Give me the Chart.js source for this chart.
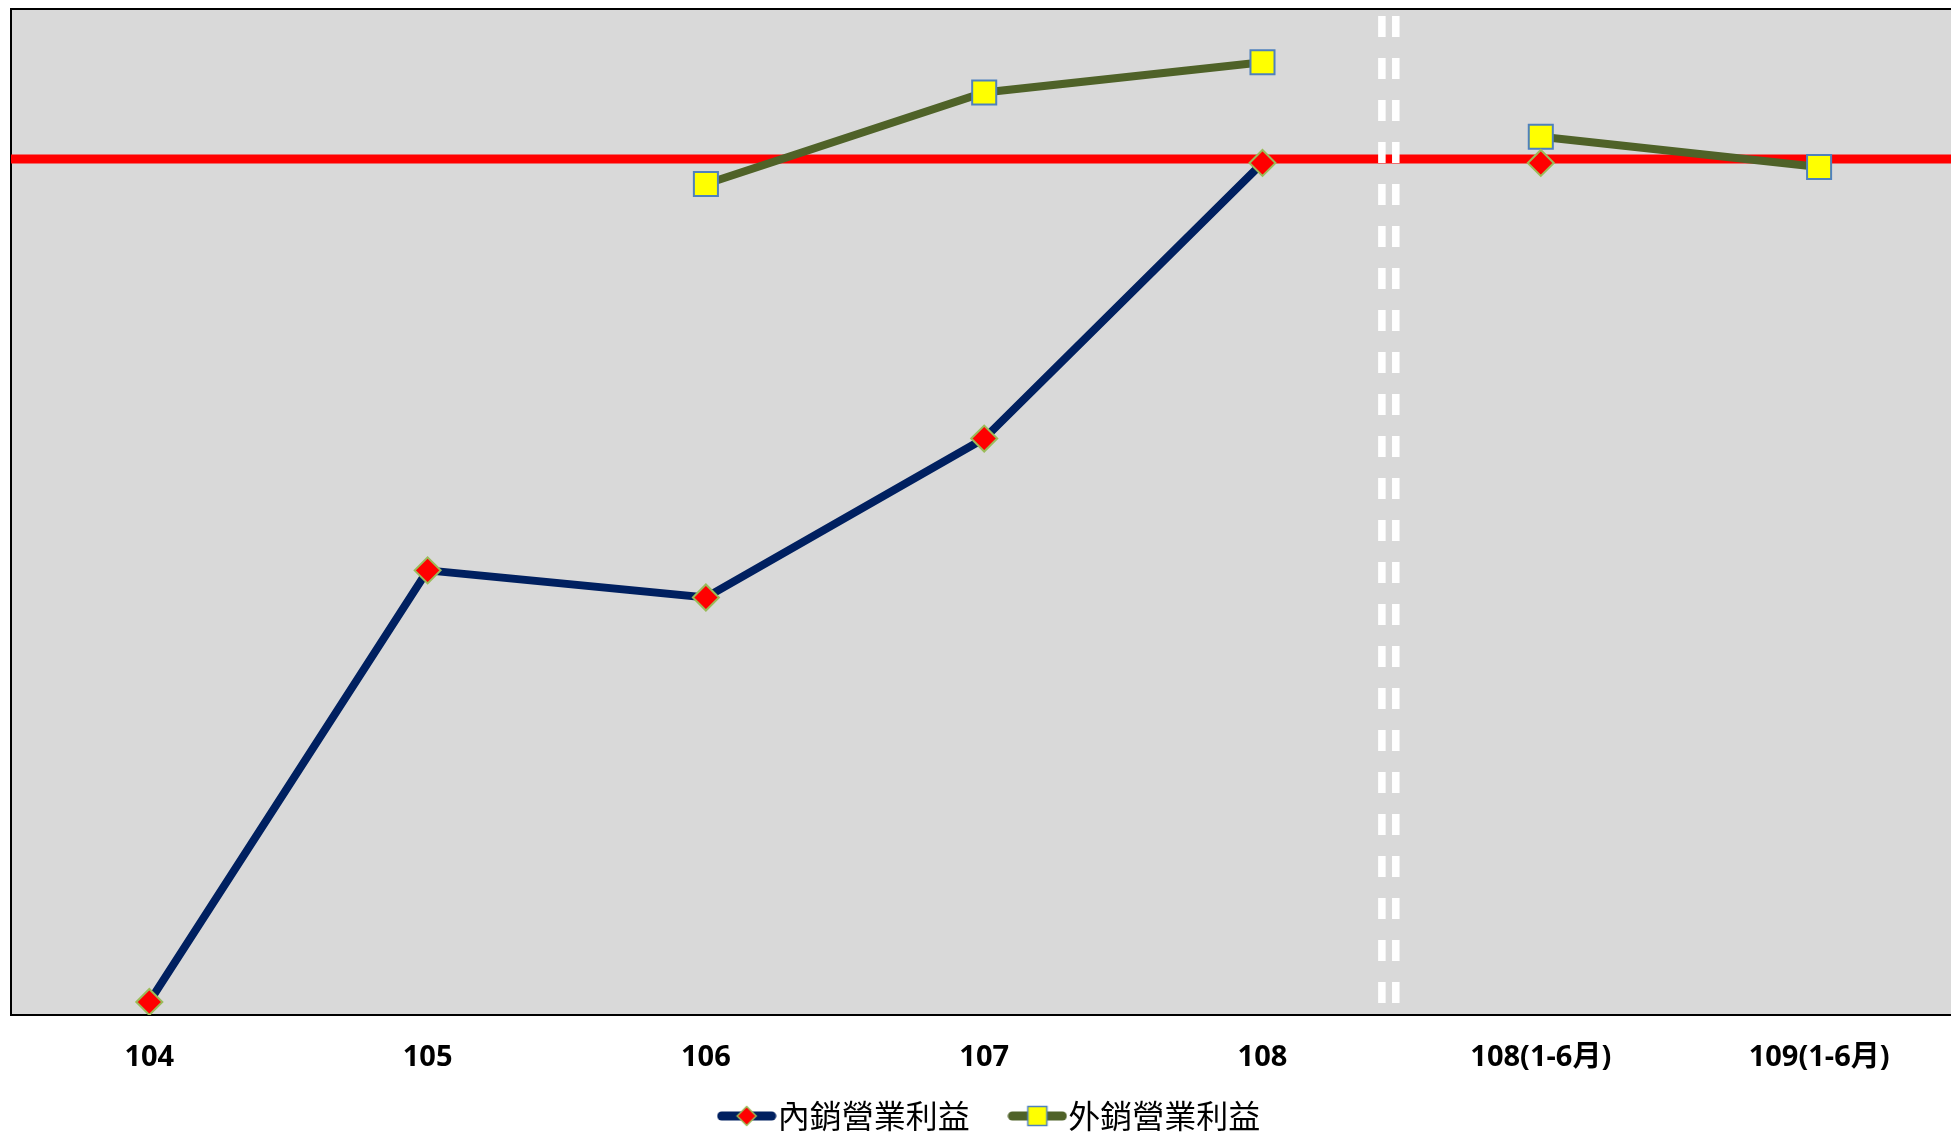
<!DOCTYPE html>
<html>
<head>
<meta charset="utf-8">
<script src="https://cdn.jsdelivr.net/npm/chart.js@4.4.0/dist/chart.umd.min.js"></script>
<style>
  body { margin: 0; background: #fff; }
  #box { width: 1951px; height: 1135px; }
</style>
</head>
<body>
<div id="box"><canvas id="lucro"></canvas></div>
<script>
let categories = ["104", "105", "106", "107", "108", "108(1-6月)", "109(1-6月)"]
let seriesNames = ["內銷營業利益", "外銷營業利益"]
let domestic = [1.3, 44.2, 41.5, 57.3, 84.7, 84.7, null]
let exportValues = [null, null, 82.6, 91.7, 94.7, 87.3, 84.3]
let refLine = 85.1
let dividerX = [4.429, 4.479]
let dividerY = [99.3, -0.3]

let toPoints = (arr) => arr.map((v, i) => ({ x: i, y: v }))

// legend icons: line with the marker in the middle
function makeIcon(lineColor, drawMarker) {
  let c = document.createElement("canvas")
  c.width = 60
  c.height = 24
  let g = c.getContext("2d")
  g.strokeStyle = lineColor
  g.lineWidth = 9
  g.lineCap = "round"
  g.beginPath()
  g.moveTo(5, 12)
  g.lineTo(55, 12)
  g.stroke()
  drawMarker(g)
  return c
}

let iconDomestic = makeIcon("#002060", (g) => {
  g.fillStyle = "#ff0000"
  g.strokeStyle = "#9bbb59"
  g.lineWidth = 1.5
  g.beginPath()
  g.moveTo(30, 2.5)
  g.lineTo(39.5, 12)
  g.lineTo(30, 21.5)
  g.lineTo(20.5, 12)
  g.closePath()
  g.fill()
  g.stroke()
})

let iconExport = makeIcon("#4f6228", (g) => {
  g.fillStyle = "#ffff00"
  g.strokeStyle = "#4f81bd"
  g.lineWidth = 1.5
  g.fillRect(20.5, 2.5, 19, 19)
  g.strokeRect(20.5, 2.5, 19, 19)
})

let icons = [iconDomestic, iconExport]
// extra room after the first legend label (em + three-per-em space)
let legendTail = ["\u2003\u2004", ""]

let plotBackground = {
  id: "plotBackground",
  beforeDatasetsDraw(chart) {
    let { ctx, chartArea: a } = chart
    ctx.save()
    ctx.fillStyle = "#d9d9d9"
    ctx.fillRect(a.left, a.top, a.right - a.left, a.bottom - a.top)
    ctx.strokeStyle = "#000"
    ctx.lineWidth = 2
    ctx.beginPath()
    ctx.moveTo(a.right, a.top)
    ctx.lineTo(a.left, a.top)
    ctx.lineTo(a.left, a.bottom)
    ctx.lineTo(a.right, a.bottom)
    ctx.stroke()
    ctx.restore()
  },
}

// move the legend row a little, it sits right of centre in the original
let legendNudge = {
  id: "legendNudge",
  afterLayout(chart) {
    let l = chart.legend
    l.left += 15
    l.right += 15
    l.top += 7
    l.bottom += 7
  },
}

let hideGap = (ctx) => (ctx.p0DataIndex === 4 ? "rgba(0,0,0,0)" : undefined)

let divider = (x) => ({
  label: "divider",
  data: dividerY.map((y) => ({ x: x, y: y })),
  borderColor: "#ffffff",
  borderWidth: 7.5,
  borderDash: [21, 21],
  pointRadius: 0,
  order: 0,
  clip: false,
})

let ctx = document.getElementById("lucro").getContext("2d")

let chart = new Chart(ctx, {
  type: "line",
  data: {
    datasets: [
      {
        label: seriesNames[0],
        data: toPoints(domestic),
        borderColor: "#002060",
        borderWidth: 8,
        pointStyle: "rectRot",
        pointRadius: 13,
        pointBackgroundColor: "#ff0000",
        pointBorderColor: "#9bbb59",
        pointBorderWidth: 2,
        segment: { borderColor: hideGap },
        order: 1,
      },
      {
        label: seriesNames[1],
        data: toPoints(exportValues),
        borderColor: "#4f6228",
        borderWidth: 8,
        pointStyle: "rect",
        pointRadius: 17,
        pointBackgroundColor: "#ffff00",
        pointBorderColor: "#4f81bd",
        pointBorderWidth: 2,
        segment: { borderColor: hideGap },
        order: 2,
      },
      {
        label: "ref",
        data: [
          { x: -0.5, y: refLine },
          { x: 6.5, y: refLine },
        ],
        borderColor: "#ff0000",
        borderWidth: 9,
        pointRadius: 0,
        order: 3,
      },
      divider(dividerX[0]),
      divider(dividerX[1]),
    ],
  },
  options: {
    responsive: true,
    maintainAspectRatio: false,
    animation: false,
    layout: {
      autoPadding: false,
      padding: { left: 11, top: 9, right: 0, bottom: 0 },
    },
    scales: {
      x: {
        type: "linear",
        min: -0.497,
        max: 6.474,
        grid: { display: false, drawTicks: false },
        border: { display: false },
        afterBuildTicks: (scale) => {
          scale.ticks = categories.map((c, i) => ({ value: i }))
        },
        afterFit: (scale) => {
          scale.height = 68
        },
        ticks: {
          autoSkip: false,
          maxRotation: 0,
          padding: 25,
          color: "#000",
          font: { family: "'Open Sans', 'Noto Sans CJK TC'", size: 29, weight: "bold" },
          callback: (v) => (categories[v] !== undefined ? categories[v] : ""),
        },
      },
      y: {
        display: false,
        min: 0,
        max: 100,
      },
    },
    plugins: {
      tooltip: { enabled: false },
      legend: {
        position: "bottom",
        labels: {
          usePointStyle: true,
          pointStyleWidth: 30,
          padding: 10,
          color: "#000",
          font: { family: "'Noto Sans CJK TC'", size: 32 },
          generateLabels: (chart) => {
            let items = Chart.defaults.plugins.legend.labels.generateLabels(chart)
            items = items.filter((it) => it.datasetIndex < 2)
            items.forEach((it) => {
              it.pointStyle = icons[it.datasetIndex]
              it.rotation = 0
              it.text = it.text + legendTail[it.datasetIndex]
            })
            return items
          },
        },
      },
    },
  },
  plugins: [plotBackground, legendNudge],
})
</script>
</body>
</html>
